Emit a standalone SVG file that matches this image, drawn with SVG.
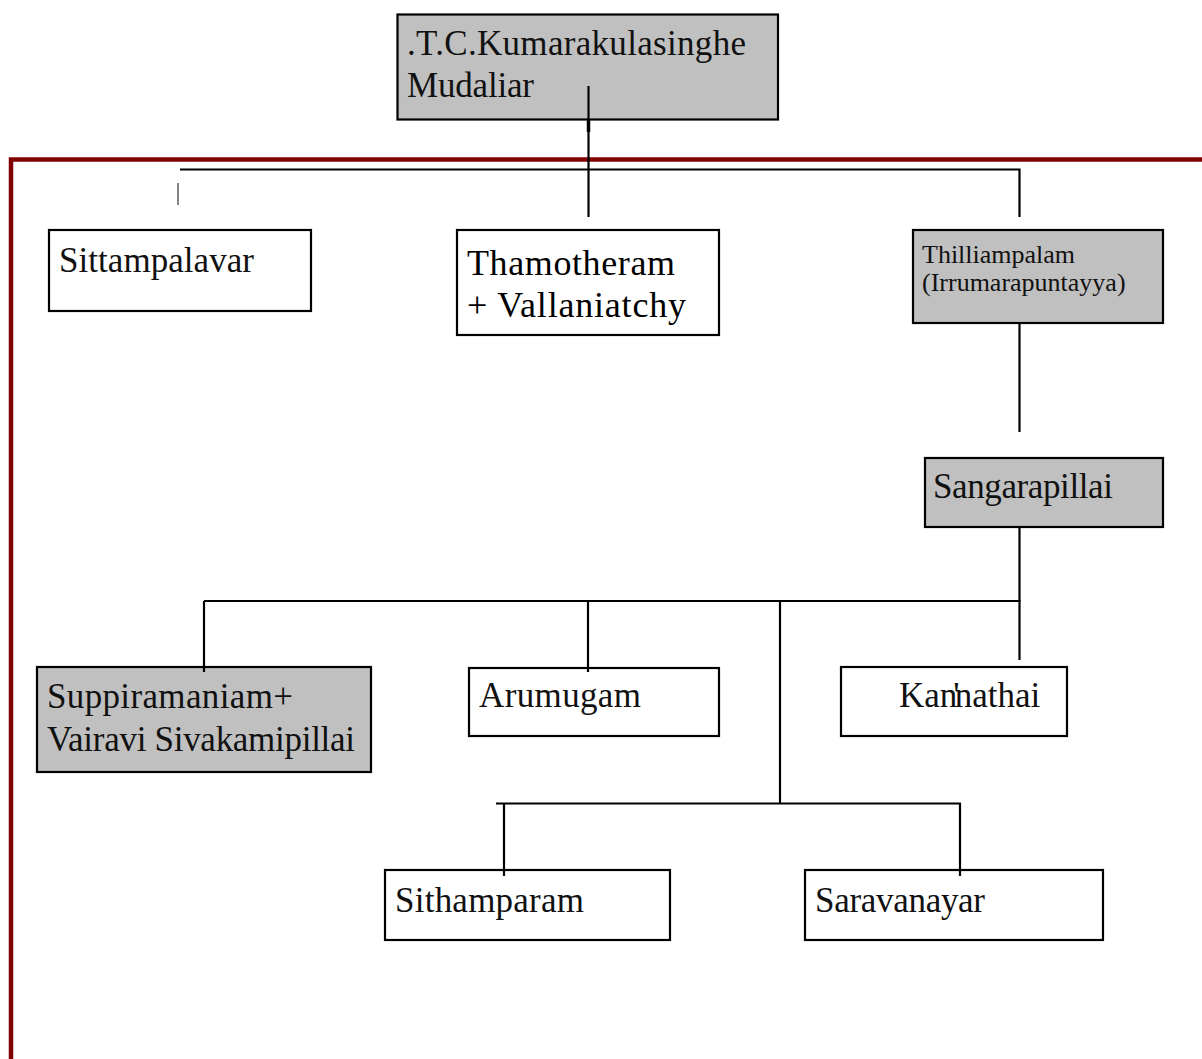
<svg xmlns="http://www.w3.org/2000/svg" width="1202" height="1059" viewBox="0 0 1202 1059">
<style>
.box{stroke:#000;stroke-width:2.2}
.g{fill:#C0C0C0}
.w{fill:#fff}
.t{font-family:"Liberation Serif","Times New Roman",serif;font-size:35px;fill:#111}
.tt{font-family:"Liberation Serif","Times New Roman",serif;font-size:36px;fill:#000}
.ts{font-family:"Liberation Serif","Times New Roman",serif;font-size:26px;fill:#111}
.c{stroke:#000;stroke-width:2.2;fill:none}
</style>
<rect width="1202" height="1059" fill="#fff"/>
<g id="frame">
<path d="M11,1059 V159.5 H1202" fill="none" stroke="#800000" stroke-width="4.5"/>
</g>
<g id="n-kumarakulasinghe">
<rect class="box g" x="397.5" y="14.5" width="380.5" height="105"/>
<text class="t" x="407" y="55" textLength="339">.T.C.Kumarakulasinghe</text>
<text class="t" x="407" y="97" textLength="127">Mudaliar</text>
</g>
<g id="n-sittampalavar">
<rect class="box w" x="49" y="230" width="262" height="81"/>
<text class="t" x="59" y="272" textLength="195">Sittampalavar</text>
</g>
<g id="n-thamotheram">
<rect class="box w" x="457" y="230" width="262" height="105"/>
<text class="tt" x="467" y="275" textLength="208">Thamotheram</text>
<text class="tt" x="467" y="317" textLength="219">+ Vallaniatchy</text>
</g>
<g id="n-thilliampalam">
<rect class="box g" x="913" y="230" width="250" height="93"/>
<text class="ts" x="922" y="263">Thilliampalam</text>
<text class="ts" x="922" y="291">(Irrumarapuntayya)</text>
</g>
<g id="n-sangarapillai">
<rect class="box g" x="925" y="458" width="238" height="69"/>
<text class="t" x="933" y="498" textLength="180">Sangarapillai</text>
</g>
<g id="n-suppiramaniam">
<rect class="box g" x="37" y="667" width="334" height="105"/>
<text class="t" x="47" y="708" textLength="246">Suppiramaniam+</text>
<text class="t" x="47" y="751" textLength="308">Vairavi Sivakamipillai</text>
</g>
<g id="n-arumugam">
<rect class="box w" x="469" y="668" width="250" height="68"/>
<text class="t" x="479" y="707" textLength="162">Arumugam</text>
</g>
<g id="n-kannathai">
<rect class="box w" x="841" y="667" width="226" height="69"/>
<text class="t" x="899" y="707" dx="0 0 0 -4 -5">Kan'nathai</text>
</g>
<g id="n-sithamparam">
<rect class="box w" x="385" y="870" width="285" height="70"/>
<text class="t" x="395" y="912" textLength="189">Sithamparam</text>
</g>
<g id="n-saravanayar">
<rect class="box w" x="805" y="870" width="298" height="70"/>
<text class="t" x="815" y="912" textLength="170">Saravanayar</text>
</g>
<g id="connectors">
<line class="c" x1="588.5" y1="86" x2="588.5" y2="217"/>
<line x1="588.5" y1="119" x2="588.5" y2="132" stroke="#000" stroke-width="3.5"/>
<path class="c" d="M180,169.5 H1019.5 V217"/>
<line x1="178" y1="183" x2="178" y2="205" stroke="#333" stroke-width="1.2"/>
<line class="c" x1="1019.5" y1="324" x2="1019.5" y2="432"/>
<line class="c" x1="1019.5" y1="528" x2="1019.5" y2="660"/>
<line class="c" x1="204" y1="601" x2="1020.5" y2="601"/>
<line class="c" x1="204" y1="601" x2="204" y2="672"/>
<line class="c" x1="588" y1="601" x2="588" y2="672"/>
<line class="c" x1="780" y1="601" x2="780" y2="804"/>
<line class="c" x1="496" y1="803.5" x2="961" y2="803.5"/>
<line class="c" x1="504" y1="803.5" x2="504" y2="876"/>
<line class="c" x1="960" y1="803.5" x2="960" y2="876"/>
</g>
</svg>
